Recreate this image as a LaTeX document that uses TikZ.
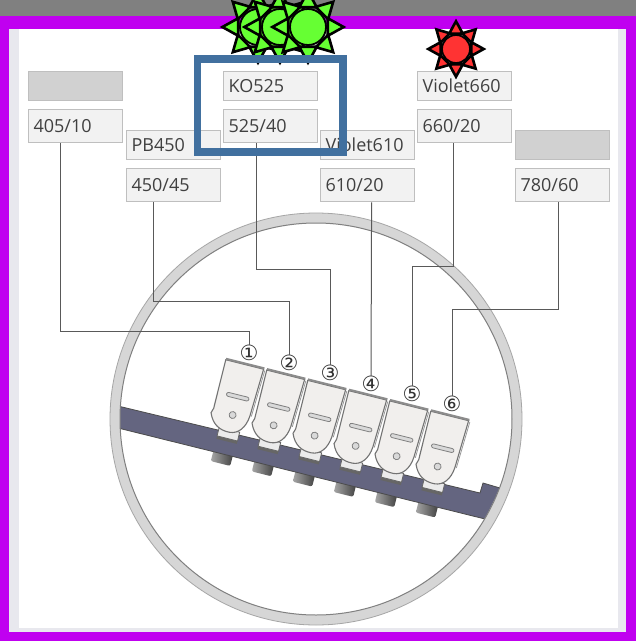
\documentclass[tikz,border=0pt]{standalone}
\usepackage{xcolor}
\usepackage{fontspec}
\setmainfont{Open Sans}
\newfontfamily\circfont{DejaVu Sans}
\usetikzlibrary{positioning}
\definecolor{framemag}{HTML}{C000F0}
\definecolor{stripgray}{HTML}{E8E8EE}
\definecolor{hiblue}{HTML}{41709F}
\definecolor{sungreen}{HTML}{66FF33}
\definecolor{sunred}{HTML}{FF3333}
\definecolor{barslate}{HTML}{646580}
\definecolor{cellfill}{HTML}{F1EFED}
\tikzset{
  labelbox/.style={draw=black!25, line width=1.2pt, fill=black!5, anchor=north west, text=black!75,
    minimum width=94pt, minimum height=29pt, text width=84pt, inner sep=0pt, inner xsep=5pt, align=left,
    font=\fontsize{18}{20}\selectfont},
  blankbox/.style={labelbox, fill=black!18},
  filterbox/.style={labelbox, minimum height=33pt},
  leader/.style={draw=black!65, line width=1pt},
  portnum/.style={inner sep=0pt, text=black!80, font=\circfont\fontsize{21}{21}\selectfont},
  sundisc/.style={circle, draw=black, line width=1.8pt, inner sep=0pt},
  sunray/.style={draw=black, line width=2.6pt, miter limit=10},
  celledge/.style={draw=black!55, line width=1.1pt, fill=cellfill}
}
% warning lamp: disc with eight rays
\newcommand{\sunmark}[5]{
  \begin{scope}[shift={(#2,#3)}]
    \foreach \a in {0,45,...,315}
      \draw[sunray, fill=#5] (\a:1.98*#4) -- (\a+24:1.2*#4) -- (\a-24:1.2*#4) -- cycle;
    \node[sundisc, fill=#5, minimum size=2*#4] (#1) at (0,0) {};
  \end{scope}
}
\begin{document}
\begin{tikzpicture}[x=1pt, y=-1pt]
  \clip (0,0) rectangle (636,641);
  % Window frame
  \fill[black!50] (0,0) rectangle (636,16);
  \fill[framemag] (0,16) rectangle (636,641);
  \fill[stripgray] (9,29) rectangle (626,632);
  \fill[white] (19,29) rectangle (618,628);
  % Bolts under the manifold
  \foreach \i in {0,...,5} {
    \begin{scope}[shift={(227+41*\i,359+10.3*\i)}, rotate=-14]
      \shade[left color=black!35, right color=black!75, rounded corners=2pt] (9,88) rectangle (29,103);
      \fill[black!25] (9,88) rectangle (29,92);
    \end{scope}
  }
  % Manifold
  \fill[barslate] (120,406.5) -- (480,493) -- (483,483) -- (500,488) -- (485,519) -- (120,428.5) -- cycle;
  \draw[black!70, line width=0.8pt] (120,406.5) -- (480,493) -- (483,483) -- (500,488);
  \draw[black!70, line width=0.8pt] (120,428.5) -- (485,519);
  % Ring
  \fill[black!16, even odd rule] (316,419) circle[radius=206] (316,419) circle[radius=196];
  \draw[black!35, line width=0.8pt] (316,419) circle[radius=206];
  \draw[black!50, line width=1pt] (316,419) circle[radius=196];
  % Flow cells
  \foreach \i in {0,...,5} {
    \begin{scope}[shift={(227+41*\i,359+10.3*\i)}, rotate=-14]
      \fill[black!60] (9,75) rectangle (30,80);
      \fill[black!8, draw=black!60, line width=0.8pt] (9,68) rectangle (30,77);
      \draw[celledge] (-1,1) -- (38,1) -- (36,50) .. controls (35,62) and (29,70) .. (20,70.5)
        .. controls (10,71) and (2,67) .. (-2.5,56) -- (-1,51) -- cycle;
      \draw[black!45, line width=2pt] (-1,0) -- (38.5,0);
      \draw[black!40, line width=0.8pt] (39.5,2) -- (37.5,50);
      \draw[black!50, fill=black!15, line width=0.8pt, rounded corners=2pt] (8,32) rectangle (31,36);
      \draw[black!50, fill=black!15, line width=0.8pt] (19,53) circle[radius=3.5];
    \end{scope}
  }
  % Filter and label boxes
  \foreach \col/\x/\y/\lstyle/\ltext/\ftext in {
    1/28/71/blankbox//405\slash 10,
    2/126/130/labelbox/PB450/450\slash 45,
    3/223/71/labelbox/KO525/525\slash 40,
    4/320/130/labelbox/Violet610/610\slash 20,
    5/417/71/labelbox/Violet660/660\slash 20,
    6/515/130/blankbox//780\slash 60} {
    \node[\lstyle] (l\col) at (\x,\y) {\ltext};
    \node[filterbox, below=8pt of l\col.south west, anchor=north west] (f\col) {\ftext};
  }
  % Port numbers
  \foreach \i/\px/\py/\glyph in {1/249/353/①,2/289/363/②,3/330/373/③,4/371/384/④,5/412/394/⑤,6/452/404/⑥}
    \node[portnum] (n\i) at (\px,\py) {\glyph};
  % Leaders
  \draw[leader] ([xshift=-15pt]f1.south) -- ++(0,188) -| (n1.north);
  \draw[leader] ([xshift=-20.5pt]f2.south) -- ++(0,99) -| (n2.north);
  \draw[leader] ([xshift=-14pt]f3.south) -- ++(0,126) -| (n3.north);
  \draw[leader] ([xshift=4pt]f4.south) -- (n4.north);
  \draw[leader] ([xshift=-11pt]f5.south) -- ++(0,123) -| (n5.north);
  \draw[leader] ([xshift=-4.5pt]f6.south) -- ++(0,107) -| (n6.north);
  % Lamps
  \sunmark{lampa}{258}{27}{18}{sungreen}
  \sunmark{lampb}{280}{27}{18}{sungreen}
  \sunmark{lampc}{308}{27}{18}{sungreen}
  \sunmark{lampd}{456}{49}{14}{sunred}
  % Highlight
  \draw[hiblue, line width=7.5pt] (197.5,59) rectangle (343,152);
\end{tikzpicture}
\end{document}
